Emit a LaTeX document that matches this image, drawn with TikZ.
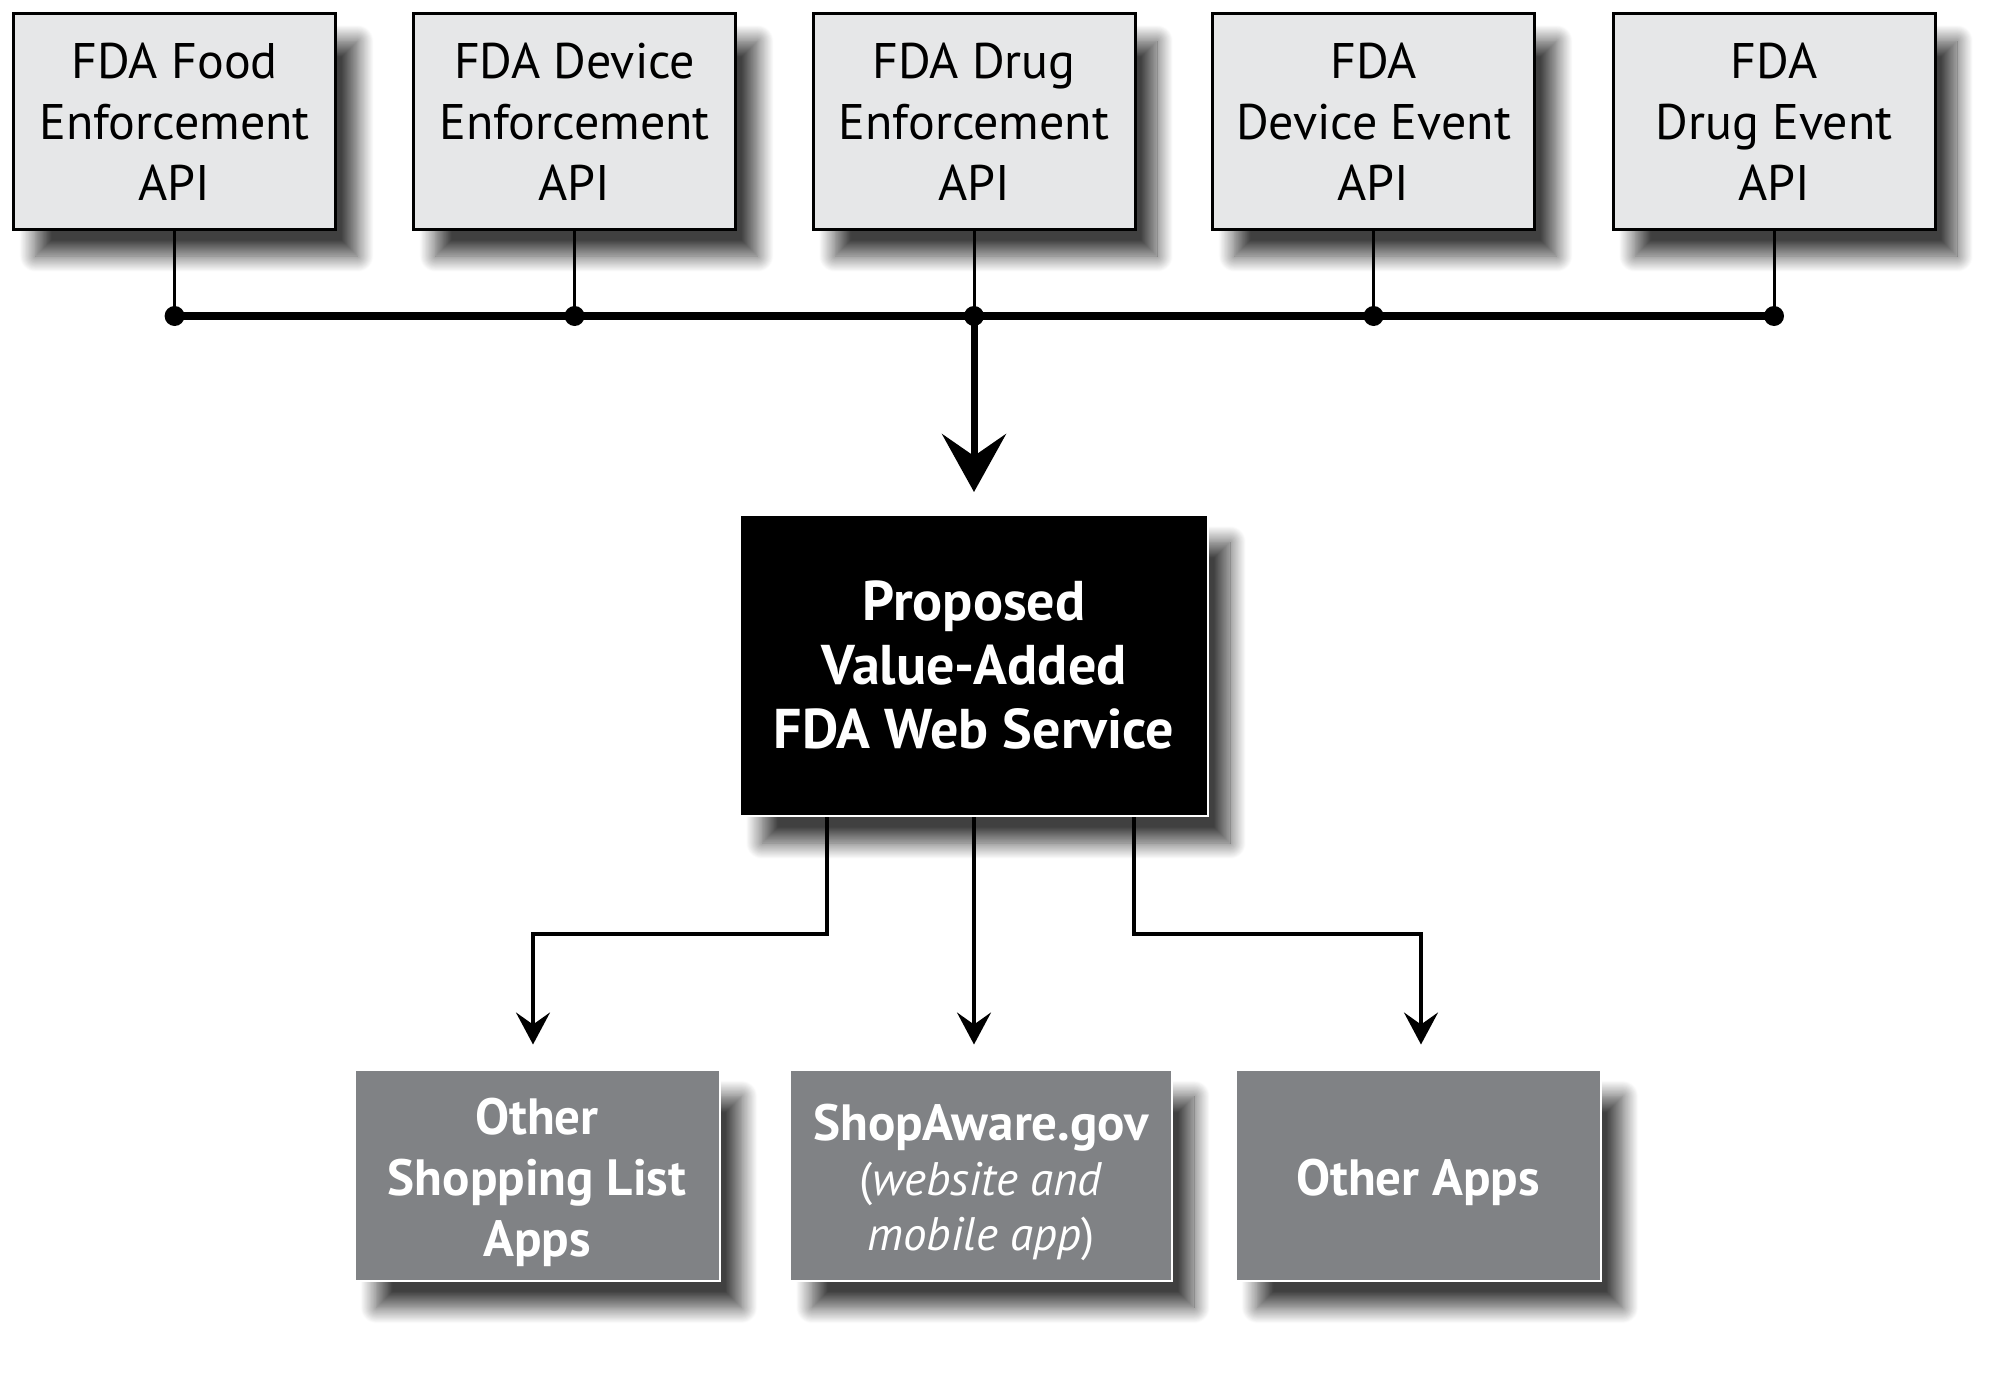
\documentclass[tikz,border=0pt]{standalone}
\usepackage{fontspec}
\setmainfont{PT Sans}
\usetikzlibrary{shadows.blur,arrows.meta}
\definecolor{topfill}{RGB}{230,231,232}
\definecolor{appfill}{RGB}{128,130,133}
\newcommand{\lowtext}[1]{\raisebox{-8pt}[\height][\depth]{\begin{tabular}{@{}c@{}}#1\end{tabular}}}
\begin{document}
\begin{tikzpicture}[x=1pt,y=-1pt,
  shad/.style={blur shadow={shadow xshift=22pt, shadow yshift=-27pt, shadow blur radius=16pt, shadow blur steps=20, shadow opacity=75}},
  topbox/.style={shad, draw=black, line width=3pt, fill=topfill, minimum width=322pt, minimum height=215pt, inner sep=0pt, align=center, font=\fontsize{50}{61}\selectfont},
  webbox/.style={shad, draw=white, line width=2pt, fill=black, text=white, minimum width=468pt, minimum height=301pt, inner sep=0pt, align=center, font=\fontsize{56}{64}\selectfont\bfseries},
  appbox/.style={shad, draw=white, line width=2pt, fill=appfill, text=white, minimum height=211pt, inner sep=0pt, font=\fontsize{51}{61}\selectfont\bfseries},
  stem/.style={line width=3pt},
  bus/.style={line width=8pt},
  bigarrow/.style={line width=7pt, -{Stealth[length=58pt,width=64pt,inset=22pt]}},
  smallarrow/.style={line width=3.5pt, -{Stealth[length=32pt,width=34pt,inset=12pt]}}
]
\useasboundingbox (0,0) rectangle (1998,1381);

\node[topbox] (t1) at (174.6,121.5) {FDA Food\\Enforcement\\API};
\node[topbox] (t2) at (574.6,121.5) {FDA Device\\Enforcement\\API};
\node[topbox] (t3) at (974,121.5) {FDA Drug\\Enforcement\\API};
\node[topbox] (t4) at (1373.6,121.5) {FDA\\Device Event\\API};
\node[topbox] (t5) at (1774,121.5) {FDA\\Drug Event\\API};

\node[webbox] (ws) at (974,665.5) {Proposed\\Value-Added\\FDA Web Service};

\node[appbox, minimum width=365pt] (a1) at (537,1175) {\lowtext{Other\\Shopping List\\Apps}};
\node[appbox, minimum width=382pt] (a2) at (981,1175) {\lowtext{ShopAware.gov\\[-6pt]{\fontsize{47}{55}\selectfont\mdseries(\textit{website and}}\\[-6pt]{\fontsize{47}{55}\selectfont\mdseries\textit{mobile app})}}};
\node[appbox, minimum width=365pt] (a3) at (1418,1175) {\lowtext{Other Apps}};

\coordinate (b1) at (174.6,316);
\coordinate (b2) at (574.6,316);
\coordinate (b3) at (974,316);
\coordinate (b4) at (1373.6,316);
\coordinate (b5) at (1774,316);

\foreach \i in {1,...,5} \draw[stem] (t\i.south) -- (b\i);
\draw[bus] (b1) -- (b5);
\foreach \i in {1,...,5} \fill (b\i) circle (10pt);

\draw[bigarrow, shorten >=22pt] (b3) -- (ws.north);

\draw[smallarrow, shorten >=24pt] ([xshift=-147pt]ws.south) -- ++(0,117) -| ([xshift=-4pt]a1.north);
\draw[smallarrow, shorten >=24pt] (ws.south) -- (ws.south |- a2.north);
\draw[smallarrow, shorten >=24pt] ([xshift=160pt]ws.south) -- ++(0,117) -| ([xshift=3pt]a3.north);
\end{tikzpicture}
\end{document}
